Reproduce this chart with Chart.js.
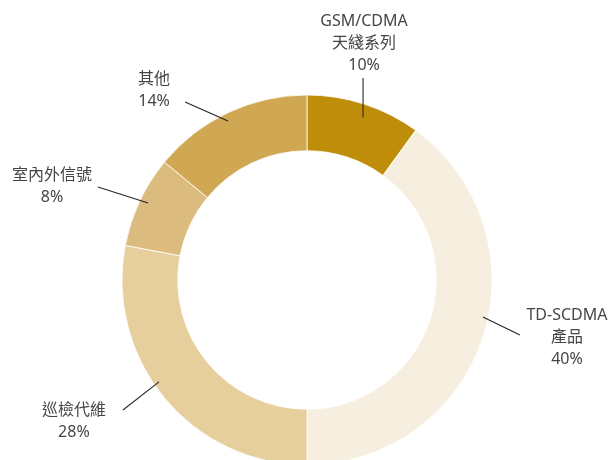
<!DOCTYPE html>
<html>
<head>
<meta charset="utf-8">
<script src="https://cdn.jsdelivr.net/npm/chart.js@4/dist/chart.umd.min.js"></script>
<style>
  html, body { margin: 0; padding: 0; background: #ffffff; overflow: hidden; width: 608px; height: 460px; }
  #wrap { position: absolute; left: 0; top: 0; width: 608px; height: 470px; }
</style>
</head>
<body>
<div id="wrap"><canvas id="c" width="608" height="470"></canvas></div>
<script>
// ---- data ----
const categories = ['GSM/CDMA 天綫系列', 'TD-SCDMA 產品', '巡檢代維', '室內外信號', '其他'];
const labelLines = [['GSM/CDMA', '天綫系列'], ['TD-SCDMA', '產品'], ['巡檢代維'], ['室內外信號'], ['其他']];
const shares = [10, 40, 28, 8, 14];

// ---- style ----
const sliceColors = ['#BE8E0B', '#F6EEDF', '#E6CE9D', '#DCBC7E', '#D0A853'];
// leader line start/end in units of the outer radius, text offset (px) from the line end
const leaderLayout = [
  { s: [0.303, -0.878], e: [0.303, -1.092], dx: 1,   dy: -57 },
  { s: [0.951, 0.200],  e: [1.151, 0.297],  dx: 47,  dy: -20 },
  { s: [-0.800, 0.551], e: [-0.995, 0.703], dx: -49, dy: 0 },
  { s: [-0.859, -0.416], e: [-1.130, -0.503], dx: -46, dy: -12 },
  { s: [-0.427, -0.859], e: [-0.659, -0.962], dx: -31, dy: -23 }
];
const FONT = '16px "Noto Sans", "Noto Sans CJK TC", sans-serif';
const LINE_H = 22;

const labelPlugin = {
  id: 'leaderLabels',
  afterDatasetsDraw(chart) {
    const ctx = chart.ctx;
    const meta = chart.getDatasetMeta(0);
    meta.data.forEach((arc, i) => {
      const p = arc.getProps(['x', 'y', 'outerRadius'], true);
      const R = p.outerRadius;
      const L = leaderLayout[i];
      const sx = p.x + L.s[0] * R, sy = p.y + L.s[1] * R;
      const ex = p.x + L.e[0] * R, ey = p.y + L.e[1] * R;
      ctx.save();
      ctx.strokeStyle = '#262626';
      ctx.lineWidth = 1.1;
      ctx.beginPath();
      ctx.moveTo(sx, sy);
      ctx.lineTo(ex, ey);
      ctx.stroke();
      ctx.font = FONT;
      ctx.fillStyle = '#454545';
      ctx.textAlign = 'center';
      ctx.textBaseline = 'middle';
      const lines = labelLines[i].concat([shares[i] + '%']);
      lines.forEach((t, k) => {
        ctx.fillText(t, ex + L.dx, ey + L.dy + k * LINE_H);
      });
      ctx.restore();
    });
  }
};

new Chart(document.getElementById('c'), {
  type: 'doughnut',
  data: {
    labels: categories,
    datasets: [{
      data: shares,
      backgroundColor: sliceColors,
      borderColor: '#ffffff',
      borderWidth: 0.8,
      radius: 185,
      cutout: 129
    }]
  },
  options: {
    responsive: false,
    animation: false,
    layout: { padding: { left: 122, right: 116, top: 95, bottom: 5 } },
    plugins: { legend: { display: false }, tooltip: { enabled: false } }
  },
  plugins: [labelPlugin]
});
</script>
</body>
</html>
